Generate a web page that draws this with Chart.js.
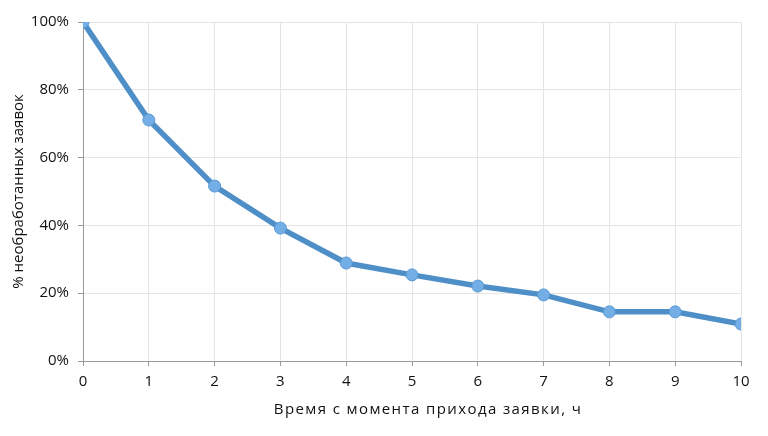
<!DOCTYPE html>
<html>
<head>
<meta charset="utf-8">
<script src="https://cdn.jsdelivr.net/npm/chart.js@4"></script>
<style>
  html, body { margin: 0; padding: 0; background: #fff; }
  #wrap { width: 768px; height: 436px; }
</style>
</head>
<body>
<div id="wrap"><canvas id="chart" width="768" height="436"></canvas></div>
<script>
// часы с момента прихода заявки
const hours = [0, 1, 2, 3, 4, 5, 6, 7, 8, 9, 10];
// доля необработанных заявок, %
const pending = [100, 71.1, 51.6, 39.2, 28.9, 25.4, 22.1, 19.5, 14.5, 14.5, 10.9];

const xTitle = "Время с момента прихода заявки, ч";
const yTitle = "% необработанных заявок";

const font = "'Open Sans', 'DejaVu Sans', sans-serif";

// подпись оси X рисуем сами, чтобы дать буквам разрядку как в оригинале
const xTitlePlugin = {
  id: 'xTitle',
  afterDraw(c) {
    const g = c.ctx;
    g.save();
    g.font = "15px " + font;
    g.fillStyle = "#111";
    g.textAlign = "center";
    g.textBaseline = "middle";
    g.letterSpacing = "1.4px";
    g.fillText(xTitle, 428, 410);
    g.restore();
  }
};

const ctx = document.getElementById('chart').getContext('2d');

const chart = new Chart(ctx, {
  type: 'line',
  data: {
    datasets: [{
      data: hours.map((h, i) => ({ x: h, y: pending[i] })),
      borderColor: "#4f8fc8",
      borderWidth: 5.5,
      backgroundColor: "#74aee6",
      pointBorderColor: "#5a98d2",
      pointBorderWidth: 1,
      pointRadius: 6,
      tension: 0
    }]
  },
  options: {
    responsive: false,
    animation: false,
    layout: {
      padding: { top: 22, right: 27, left: 6, bottom: 0 }
    },
    plugins: {
      legend: { display: false },
      tooltip: { enabled: false }
    },
    scales: {
      x: {
        type: 'linear',
        min: 0,
        max: 10,
        ticks: {
          stepSize: 1,
          color: "#111",
          font: { family: font, size: 15 },
          padding: 7
        },
        grid: {
          color: "#e4e4e4",
          tickColor: "#999",
          tickLength: 5
        },
        border: { color: "#999" },
        afterFit: s => { s.height = 75; }
      },
      y: {
        min: 0,
        max: 100,
        ticks: {
          stepSize: 20,
          color: "#111",
          font: { family: font, size: 15 },
          callback: v => v + "%",
          padding: 9
        },
        grid: {
          color: "#e4e4e4",
          tickColor: "#999",
          tickLength: 5
        },
        border: { color: "#999" },
        title: {
          display: true,
          text: yTitle,
          color: "#111",
          font: { family: font, size: 15 },
          padding: { bottom: 6 }
        },
        afterFit: s => { s.width = 77; }
      }
    }
  },
  plugins: [xTitlePlugin]
});
</script>
</body>
</html>
